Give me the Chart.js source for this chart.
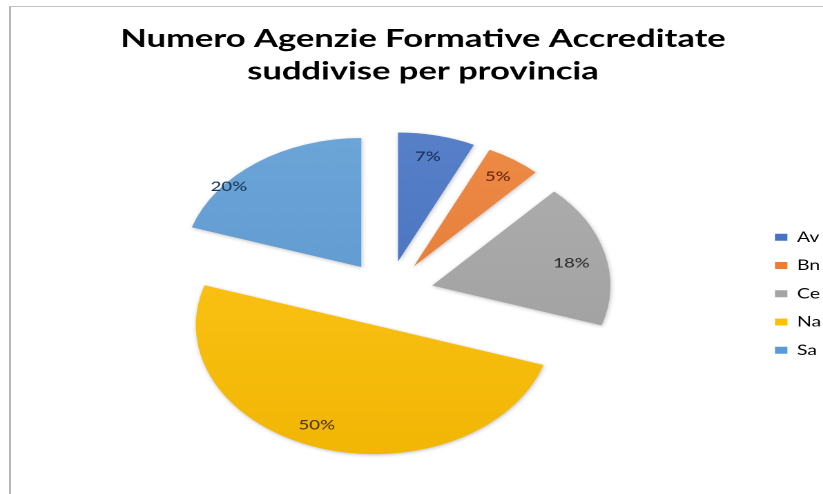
<!DOCTYPE html>
<html><head><meta charset="utf-8">
<script src="https://cdn.jsdelivr.net/npm/chart.js@4"></script>
<style>
html,body{margin:0;padding:0;background:#fff;overflow:hidden;width:823px;height:494px;}
#frame{position:absolute;left:9px;top:6px;width:820px;height:494px;border-top:1px solid #c4c4c4;border-left:2px solid #b5b5b5;box-sizing:border-box;}
#wrap{position:absolute;left:0;top:0;width:596px;height:494px;transform:scaleX(1.381);transform-origin:0 0;}
</style></head><body>
<div id="frame"></div>
<div id="wrap"><canvas id="c"></canvas></div>
<script>
// ---- data ----
const titleLines = ['Numero Agenzie Formative Accreditate', 'suddivise per provincia'];
const categories = ['Av', 'Bn', 'Ce', 'Na', 'Sa'];
const percentages = [7, 5, 18, 50, 20];
const sliceColors = ['#4472C4', '#ED7D31', '#A5A5A5', '#FFC000', '#5B9BD5'];
const labelColors = ['#1A2F57', '#6A2708', '#303030', '#4F3A00', '#1A3A5E'];

function shade(hex, f) {
  const n = parseInt(hex.slice(1), 16);
  let r = (n >> 16) & 255, g = (n >> 8) & 255, b = n & 255;
  if (f >= 0) { r += (255 - r) * f; g += (255 - g) * f; b += (255 - b) * f; }
  else { r *= (1 + f); g *= (1 + f); b *= (1 + f); }
  return 'rgb(' + Math.round(r) + ',' + Math.round(g) + ',' + Math.round(b) + ')';
}

const explodePlugin = {
  id: 'explode',
  beforeDatasetDraw(chart, args, opts) {
    const ctx = chart.ctx;
    args.meta.data.forEach((arc) => {
      const mid = (arc.startAngle + arc.endAngle) / 2;
      ctx.save();
      ctx.translate(Math.cos(mid) * opts.distance, Math.sin(mid) * opts.distance);
      ctx.shadowColor = 'rgba(0,0,0,0.25)';
      ctx.shadowBlur = 7;
      ctx.shadowOffsetX = 1;
      ctx.shadowOffsetY = 2;
      arc.draw(ctx, chart.chartArea);
      ctx.restore();
    });
    return false;
  },
  afterDatasetsDraw(chart, args, opts) {
    const ctx = chart.ctx;
    const meta = chart.getDatasetMeta(0);
    ctx.save();
    ctx.font = opts.font;
    ctx.textAlign = 'center';
    ctx.textBaseline = 'middle';
    meta.data.forEach((arc, i) => {
      const mid = (arc.startAngle + arc.endAngle) / 2;
      const p = opts.place[i];
      const a = mid + p.da * Math.PI / 180;
      const x = arc.x + Math.cos(mid) * opts.distance + Math.cos(a) * arc.outerRadius * p.r;
      const y = arc.y + Math.sin(mid) * opts.distance + Math.sin(a) * arc.outerRadius * p.r;
      ctx.fillStyle = labelColors[i];
      ctx.fillText(percentages[i] + '%', x, y);
    });
    ctx.restore();
  }
};

new Chart(document.getElementById('c'), {
  type: 'pie',
  data: {
    labels: categories,
    datasets: [{
      data: percentages,
      backgroundColor: (c) => {
        const i = c.dataIndex;
        const area = c.chart.chartArea;
        if (!area || i === undefined) return sliceColors[i] || '#999';
        const cy = (area.top + area.bottom) / 2;
        const g = c.chart.ctx.createLinearGradient(0, cy - 170, 0, cy + 170);
        g.addColorStop(0, shade(sliceColors[i], 0.12));
        g.addColorStop(1, shade(sliceColors[i], -0.06));
        return g;
      },
      borderWidth: 0,
      offset: 0
    }]
  },
  options: {
    responsive: true,
    maintainAspectRatio: false,
    devicePixelRatio: 2,
    animation: false,
    radius: 129,
    layout: { padding: { left: 15.1, right: -1.5, top: 0, bottom: 5 } },
    plugins: {
      explode: {
        distance: 33,
        font: '500 13.5px Lato',
        place: [
          { r: 0.83, da: -1 },
          { r: 0.84, da: 0 },
          { r: 0.80, da: 2 },
          { r: 0.84, da: 4.5 },
          { r: 0.97, da: -14 }
        ]
      },
      title: {
        display: true,
        text: titleLines,
        color: '#000000',
        font: { family: 'Lato', weight: 'bold', size: 25, lineHeight: 1.3 },
        padding: { top: 22.5, bottom: 11 }
      },
      legend: {
        display: true,
        position: 'right',
        align: 'center',
        fullSize: false,
        maxWidth: 50.6,
        labels: {
          boxWidth: 9,
          boxHeight: 7,
          padding: 14.25,
          color: '#595959',
          font: { family: 'Lato', size: 14 },
          generateLabels: () => categories.map((t, i) => ({
            text: t, fillStyle: sliceColors[i], strokeStyle: sliceColors[i],
            lineWidth: 0, hidden: false, index: i
          }))
        }
      },
      tooltip: { enabled: false }
    }
  },
  plugins: [explodePlugin]
});
</script>
</body></html>
